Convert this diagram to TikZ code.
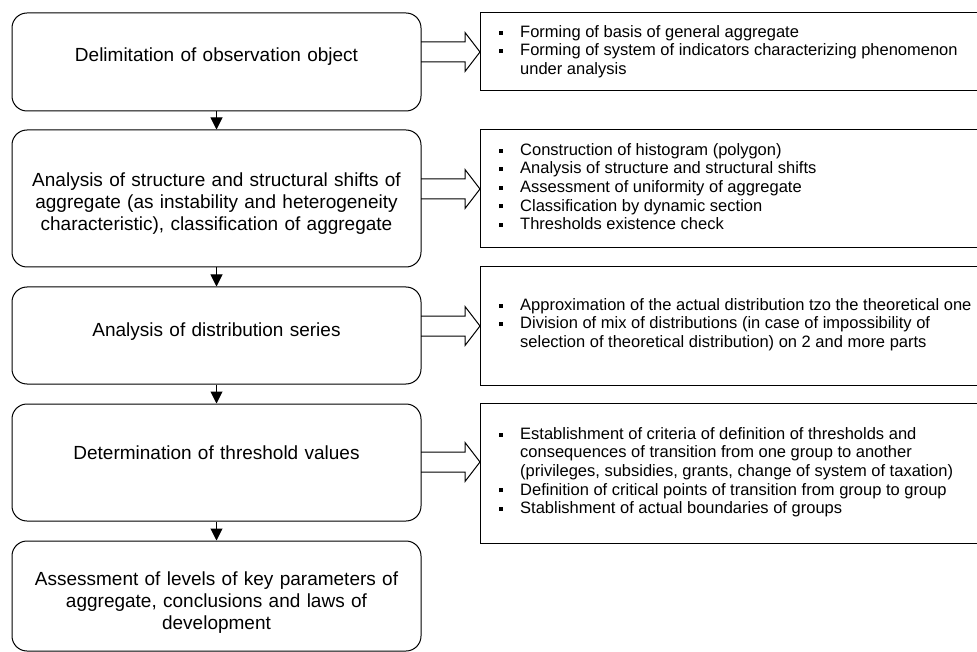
\documentclass[tikz,border=0pt]{standalone}
\usepackage{fontspec}
\setmainfont{Liberation Sans}
\usetikzlibrary{arrows.meta}
\newcommand\lfont{\fontsize{19}{22}\selectfont}
\newcommand\rfont{\fontsize{16.5}{18.6}\selectfont}
\newcommand\bul{\raisebox{2.7pt}{\rule{4pt}{4pt}}}
\newenvironment{blist}{\begin{tabular}{@{}l@{\hspace{17pt}}l@{}}}{\end{tabular}}
\tikzset{
  lbox/.style={draw, line width=1pt, rounded corners=15pt, minimum width=409pt, inner sep=0pt},
  rbox/.style={draw, line width=1pt, minimum width=510pt, inner sep=0pt},
  ltext/.style={anchor=north, inner sep=0pt, text width=409pt, align=center, font=\lfont},
  rtext/.style={anchor=north west, inner sep=0pt, font=\rfont},
  darrow/.style={line width=1pt, -{Triangle[width=12pt,length=12pt]}},
  barrowstyle/.style={line width=1pt, line join=miter}
}
\begin{document}
\begin{tikzpicture}[x=1pt,y=-1pt]
\useasboundingbox (0,0) rectangle (977,652);
% left boxes
\node[lbox, minimum height=98pt]  (b1) at (216.5,62) {};
\node[lbox, minimum height=137pt] (b2) at (216.5,198.5) {};
\node[lbox, minimum height=97pt]  (b3) at (216.5,335.5) {};
\node[lbox, minimum height=117pt] (b4) at (216.5,462.5) {};
\node[lbox, minimum height=110pt] (b5) at (216.5,596) {};
% left texts
\node[ltext] (t1) at (216.5,46.3) {\strut Delimitation of observation object};
\node[ltext] (t2) at (216.5,170.6) {\strut Analysis of structure and structural shifts of\\ aggregate (as instability and heterogeneity\\ characteristic), classification of aggregate};
\node[ltext] (t3) at (216.5,321.3) {\strut Analysis of distribution series};
\node[ltext] (t4) at (216.5,443.6) {\strut Determination of threshold values};
\node[ltext] (t5) at (216.5,569.6) {\strut Assessment of levels of key parameters of\\ aggregate, conclusions and laws of\\ development};
% right boxes
\node[rbox, minimum height=78pt]  (r1) at (735,52) {};
\node[rbox, minimum height=118pt] (r2) at (735,189) {};
\node[rbox, minimum height=118pt] (r3) at (735,326) {};
\node[rbox, minimum height=140pt] (r4) at (735,473) {};
% right texts
\node[rtext] (rt1) at (499,24) {\begin{blist}
\bul & Forming of basis of general aggregate\\
\bul & Forming of system of indicators characterizing phenomenon\\
     & under analysis
\end{blist}};
\node[rtext] (rt2) at (499,142) {\begin{blist}
\bul & Construction of histogram (polygon)\\
\bul & Analysis of structure and structural shifts\\
\bul & Assessment of uniformity of aggregate\\
\bul & Classification by dynamic section\\
\bul & Thresholds existence check
\end{blist}};
\node[rtext] (rt3) at (499,297) {\begin{blist}
\bul & Approximation of the actual distribution tzo the theoretical one\\
\bul & Division of mix of distributions (in case of impossibility of\\
     & selection of theoretical distribution) on 2 and more parts
\end{blist}};
\node[rtext] (rt4) at (499,426) {\begin{blist}
\bul & Establishment of criteria of definition of thresholds and\\
     & consequences of transition from one group to another\\
     & (privileges, subsidies, grants, change of system of taxation)\\
\bul & Definition of critical points of transition from group to group\\
\bul & Stablishment of actual boundaries of groups
\end{blist}};
% down arrows
\draw[darrow] (b1.south) -- (b2.north);
\draw[darrow] (b2.south) -- (b3.north);
\draw[darrow] (b3.south) -- (b4.north);
\draw[darrow] (b4.south) -- (b5.north);
% block arrows
\foreach \yy in {52,189,326,462}
  \draw[barrowstyle] (421,\yy-10) -- (465,\yy-10) -- (465,\yy-19.5) -- (480,\yy) -- (465,\yy+19.5) -- (465,\yy+10) -- (421,\yy+10);
\end{tikzpicture}
\end{document}
